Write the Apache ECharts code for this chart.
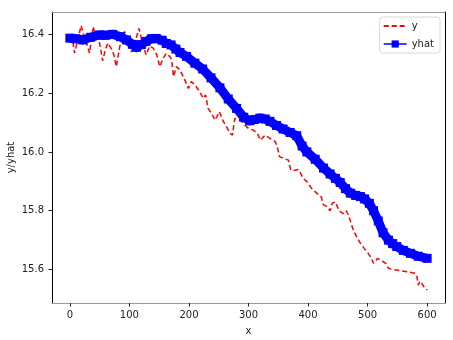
<!DOCTYPE html>
<html>
<head>
<meta charset="utf-8">
<script src="https://cdn.jsdelivr.net/npm/echarts@6/dist/echarts.min.js"></script>
<style>html,body{margin:0;padding:0;background:#fff}#c{width:453px;height:340px}</style>
</head>
<body>
<div id="c"></div>
<script>
// ---- data ----
const yX = [0,4,8,13,19,24,28,33,39,44,50,55,60,64,70,74,78,84,92,97,103,109,116,122,128,134,140,146,151,157,162,168,171,174,179,185,193,199,204,210,218,224,228,232,238,244,251,258,263,269,273,277,286,294,300,308,315,320,328,336,345,349,352,359,367,371,378,384,392,398,406,415,422,426,432,437,441,446,452,459,464,468,476,482,488,495,501,506,510,517,522,526,531,535,542,549,558,566,573,580,583,585,588,591,595,600];
const yVals = [16.398,16.39,16.336,16.38,16.43,16.39,16.37,16.336,16.426,16.39,16.37,16.31,16.35,16.37,16.35,16.33,16.29,16.36,16.41,16.37,16.34,16.37,16.42,16.37,16.33,16.36,16.353,16.33,16.29,16.32,16.335,16.324,16.313,16.256,16.29,16.279,16.245,16.216,16.239,16.228,16.205,16.182,16.194,16.148,16.131,16.108,16.137,16.103,16.086,16.063,16.057,16.114,16.108,16.091,16.08,16.074,16.063,16.04,16.057,16.046,16.035,16.012,15.984,15.978,15.972,15.938,15.938,15.94,15.91,15.899,15.876,15.859,15.848,15.82,15.814,15.8,15.826,15.83,15.8,15.79,15.8,15.785,15.734,15.71,15.689,15.67,15.655,15.64,15.621,15.638,15.63,15.627,15.62,15.604,15.6,15.598,15.595,15.592,15.59,15.587,15.575,15.547,15.56,15.553,15.54,15.53];
const yhatX = [0,10,22,35,50,60,72,85,95,105,112,120,128,137,145,155,162,170,178,185,196,210,223,237,252,266,280,292,302,310,319,328,336,347,358,370,381,390,398,412,426,437,446,454,463,471,480,488,495,503,510,518,526,535,542,549,560,572,585,600];
const yhatVals = [16.387,16.385,16.381,16.39,16.398,16.397,16.4,16.392,16.381,16.366,16.356,16.365,16.376,16.385,16.386,16.38,16.369,16.364,16.35,16.338,16.325,16.302,16.282,16.252,16.218,16.18,16.148,16.118,16.106,16.11,16.115,16.112,16.104,16.09,16.078,16.066,16.055,16.02,16.0,15.975,15.945,15.925,15.91,15.896,15.875,15.86,15.852,15.848,15.84,15.825,15.8,15.765,15.725,15.7,15.688,15.678,15.665,15.655,15.645,15.638];
const xTicks = [0,100,200,300,400,500,600];
const yTicks = [15.6,15.8,16.0,16.2,16.4];

const pair = (xs, vs) => xs.map((x, i) => [x, vs[i]]);
const FONT = 'DejaVu Sans';

const chart = echarts.init(document.getElementById('c'), null, {renderer: 'canvas'});
chart.setOption({
  animation: false,
  backgroundColor: '#fff',
  textStyle: {fontFamily: FONT},
  grid: {left: 52, right: 8, top: 12, bottom: 37, containLabel: false, outerBoundsMode: 'none'},
  legend: {
    orient: 'vertical', right: 13, top: 17,
    backgroundColor: '#fff', borderColor: '#d8d8d8', borderWidth: 1, borderRadius: 3,
    padding: [4, 6, 4, 3], itemGap: 8, itemWidth: 23, itemHeight: 9,
    textStyle: {fontFamily: FONT, fontSize: 10, color: '#222'},
    data: [
      {name: 'y', itemStyle: {opacity: 0}},
      {name: 'yhat', lineStyle: {width: 1.5}}
    ]
  },
  xAxis: [{
    type: 'value', min: -30, max: 630,
    name: 'x', nameLocation: 'middle', nameGap: 23, nameMoveOverlap: false,
    nameTextStyle: {fontFamily: FONT, fontSize: 10, color: '#222'},
    axisLine: {show: true, lineStyle: {color: '#999', width: 1}},
    axisTick: {show: true, length: 3.5, lineStyle: {color: '#222'}, customValues: xTicks},
    axisLabel: {fontFamily: FONT, fontSize: 10, color: '#222', margin: 7, customValues: xTicks},
    splitLine: {show: false}
  }, {
    type: 'value', min: -30, max: 630, position: 'top',
    axisLine: {show: true, onZero: false, lineStyle: {color: '#999', width: 1}},
    axisTick: {show: false}, axisLabel: {show: false}, splitLine: {show: false}
  }],
  yAxis: [{
    type: 'value', min: 15.486, max: 16.476,
    name: 'y/yhat', nameLocation: 'middle', nameGap: 36, nameRotate: 90, nameMoveOverlap: false,
    nameTextStyle: {fontFamily: FONT, fontSize: 10, color: '#222'},
    axisLine: {show: true, onZero: false, lineStyle: {color: '#000', width: 1}},
    axisTick: {show: true, length: 3.5, lineStyle: {color: '#222'}, customValues: yTicks},
    axisLabel: {fontFamily: FONT, fontSize: 10, color: '#222', margin: 8, customValues: yTicks,
      formatter: v => Number(v).toFixed(1)},
    splitLine: {show: false}
  }, {
    type: 'value', min: 15.486, max: 16.476, position: 'right',
    axisLine: {show: true, onZero: false, lineStyle: {color: '#000', width: 1}},
    axisTick: {show: false}, axisLabel: {show: false}, splitLine: {show: false}
  }],
  series: [{
    name: 'y', type: 'line', data: pair(yX, yVals),
    symbol: 'none', z: 2,
    lineStyle: {color: '#ff0000', width: 1.5, type: [5, 3]},
    itemStyle: {color: '#ff0000'}
  }, {
    name: 'yhat', type: 'line', data: pair(yhatX, yhatVals),
    symbol: 'rect', symbolSize: 9, showAllSymbol: true, z: 3,
    lineStyle: {color: '#0000ff', width: 9, join: 'miter', cap: 'butt'},
    itemStyle: {color: '#0000ff'}
  }]
});
</script>
</body>
</html>
